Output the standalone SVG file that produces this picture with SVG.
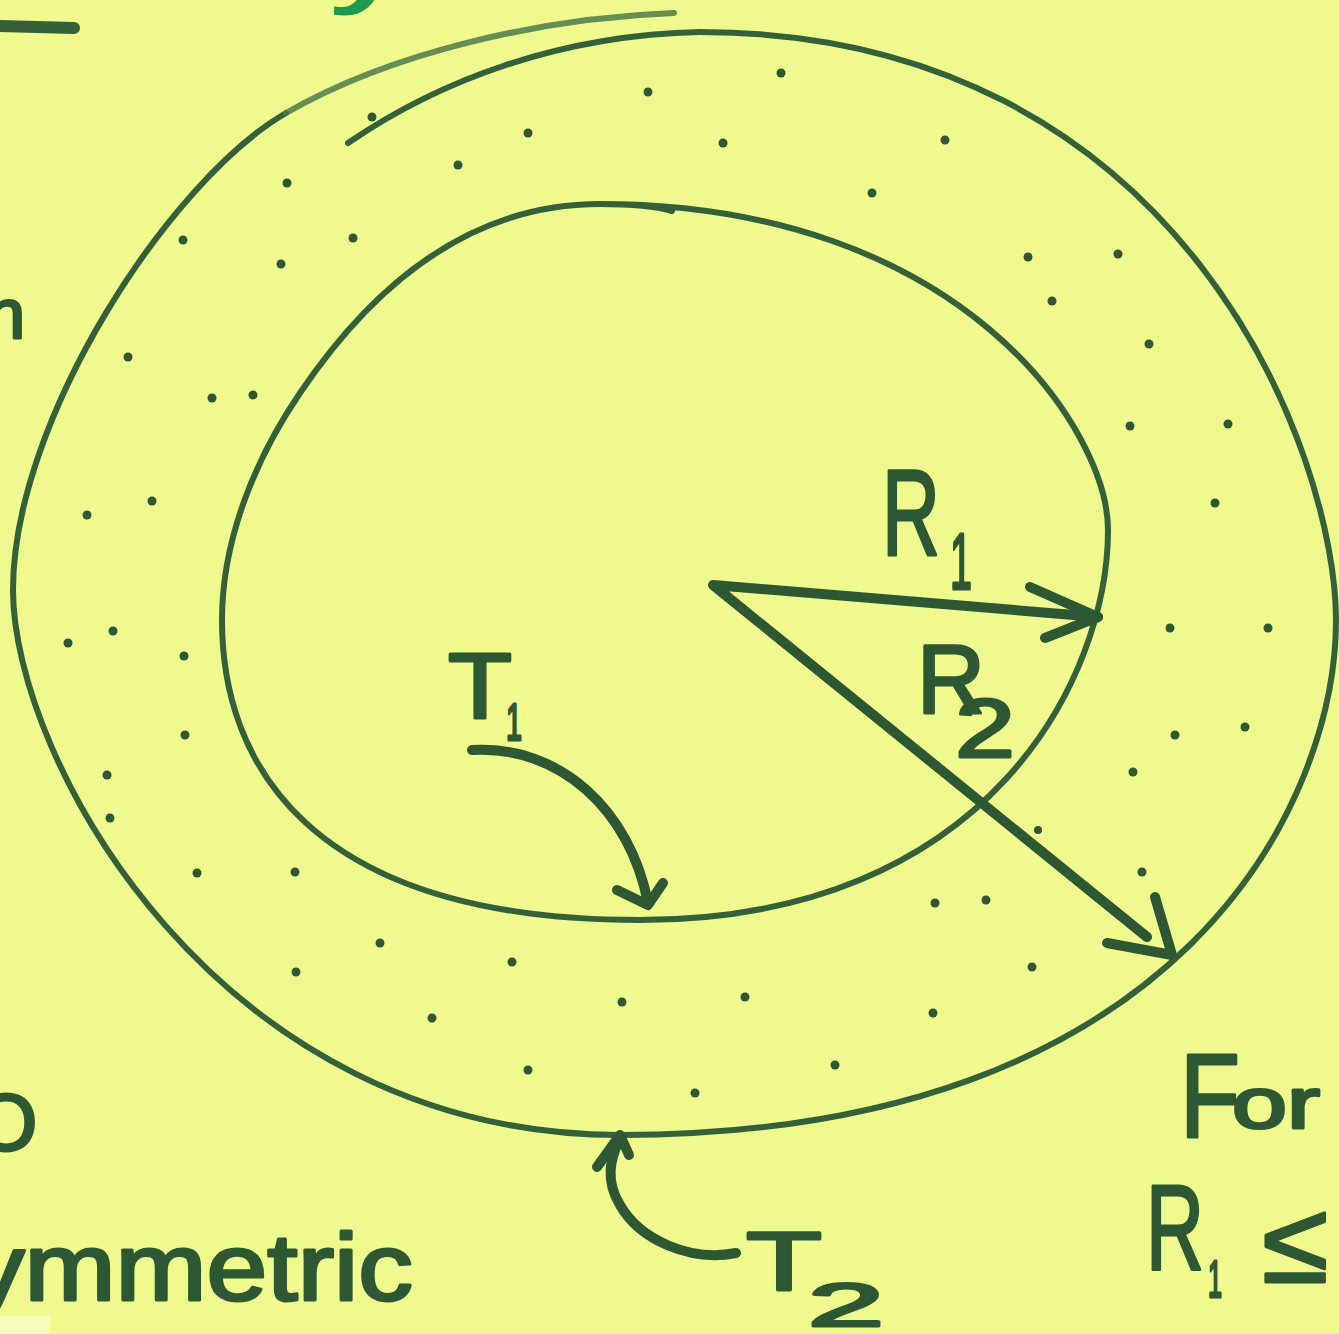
<svg xmlns="http://www.w3.org/2000/svg" width="1339" height="1334" viewBox="0 0 1339 1334">
<style>
.bg{fill:#eff98d}
.ring{fill:none;stroke:#34613a;stroke-width:6;stroke-linecap:round;stroke-linejoin:round}
.faint{fill:none;stroke:#4d7a4a;stroke-width:6;stroke-linecap:round;opacity:0.85}
.arrow{fill:none;stroke:#2e5834;stroke-width:10;stroke-linecap:round;stroke-linejoin:round}
.dot{fill:#2e5834}
.hw{font-family:"Liberation Sans","DejaVu Sans",sans-serif;fill:#2e5834;stroke:#2e5834;stroke-width:3;stroke-linejoin:round}
.green{font-family:"Liberation Sans","DejaVu Sans",sans-serif;fill:#1f9a4c;stroke:#1f9a4c;stroke-width:3}
</style>
<rect class="bg" x="0" y="0" width="1339" height="1334"/>
<rect x="0" y="1316" width="50" height="18" fill="#f5fbbd"/>

<g id="outer-boundary">
  <path class="ring" d="M 348,143 C 440,80 560,35 700,32 C 1185,32 1336,457 1336,620 C 1336,800 1185,1135 620,1135 C 216,1135 13,757 13,590 C 13,420 170,180 286,113"/>
  <path class="faint" d="M 286,113 C 390,53 540,18 674,13"/>
</g>

<g id="inner-boundary">
  <path class="ring" d="M 600,204 C 963,204 1108,431 1108,530 C 1108,677 989,920 640,920 C 304,920 222,759 222,620 C 222,540 255,459 300,393 C 373,285 470,204 600,204 C 630,204 655,206 672,211"/>
</g>

<g id="dots">
  <circle class="dot" cx="372" cy="117" r="4.5"/><circle class="dot" cx="528" cy="133" r="4.5"/>
  <circle class="dot" cx="458" cy="165" r="4.5"/><circle class="dot" cx="287" cy="183" r="4.5"/>
  <circle class="dot" cx="648" cy="92" r="4.5"/><circle class="dot" cx="781" cy="73" r="4.5"/>
  <circle class="dot" cx="723" cy="143" r="4.5"/><circle class="dot" cx="945" cy="140" r="4.5"/>
  <circle class="dot" cx="872" cy="193" r="4.5"/><circle class="dot" cx="183" cy="240" r="4.5"/>
  <circle class="dot" cx="281" cy="264" r="4.5"/><circle class="dot" cx="353" cy="238" r="4.5"/>
  <circle class="dot" cx="1028" cy="257" r="4.5"/><circle class="dot" cx="1118" cy="254" r="4.5"/>
  <circle class="dot" cx="1052" cy="301" r="4.5"/><circle class="dot" cx="1149" cy="344" r="4.5"/>
  <circle class="dot" cx="1130" cy="426" r="4.5"/><circle class="dot" cx="1228" cy="424" r="4.5"/>
  <circle class="dot" cx="1215" cy="503" r="4.5"/><circle class="dot" cx="1170" cy="628" r="4.5"/>
  <circle class="dot" cx="1268" cy="628" r="4.5"/><circle class="dot" cx="1245" cy="727" r="4.5"/>
  <circle class="dot" cx="1175" cy="735" r="4.5"/><circle class="dot" cx="1133" cy="772" r="4.5"/>
  <circle class="dot" cx="1142" cy="872" r="4.5"/><circle class="dot" cx="1038" cy="830" r="4"/>
  <circle class="dot" cx="935" cy="903" r="4.5"/><circle class="dot" cx="986" cy="900" r="4.5"/>
  <circle class="dot" cx="1032" cy="967" r="4.5"/><circle class="dot" cx="933" cy="1013" r="4.5"/>
  <circle class="dot" cx="835" cy="1065" r="4.5"/><circle class="dot" cx="695" cy="1093" r="4.5"/>
  <circle class="dot" cx="528" cy="1070" r="4.5"/><circle class="dot" cx="745" cy="997" r="4.5"/>
  <circle class="dot" cx="622" cy="1002" r="4.5"/><circle class="dot" cx="512" cy="962" r="4.5"/>
  <circle class="dot" cx="432" cy="1018" r="4.5"/><circle class="dot" cx="380" cy="943" r="4.5"/>
  <circle class="dot" cx="296" cy="972" r="4.5"/><circle class="dot" cx="295" cy="872" r="4.5"/>
  <circle class="dot" cx="197" cy="873" r="4.5"/><circle class="dot" cx="110" cy="818" r="4.5"/>
  <circle class="dot" cx="107" cy="775" r="4.5"/><circle class="dot" cx="185" cy="735" r="4.5"/>
  <circle class="dot" cx="184" cy="656" r="4.5"/><circle class="dot" cx="113" cy="631" r="4.5"/>
  <circle class="dot" cx="68" cy="643" r="4.5"/><circle class="dot" cx="152" cy="501" r="4.5"/>
  <circle class="dot" cx="87" cy="515" r="4.5"/><circle class="dot" cx="128" cy="357" r="4.5"/>
  <circle class="dot" cx="212" cy="398" r="4.5"/><circle class="dot" cx="253" cy="395" r="4.5"/>
</g>

<g id="connectors">
  <path class="arrow" d="M 1098,617 L 713,585 L 1147,937"/>
  <path class="arrow" d="M 1030,587 L 1098,617 L 1045,638"/>
  <path class="arrow" d="M 1155,897 L 1172,955 L 1107,943"/>
  <path class="arrow" stroke-width="8" d="M 472,750 C 560,745 630,810 648,903"/>
  <path class="arrow" stroke-width="8" d="M 617,890 L 648,905 L 663,883"/>
  <path class="arrow" stroke-width="9" d="M 736,1253 C 690,1262 640,1240 620,1205 C 605,1180 610,1160 620,1138"/>
  <path class="arrow" stroke-width="9" d="M 597,1167 L 620,1135 L 629,1155"/>
</g>

<g id="label-R1">
  <text class="hw" x="882" y="555" font-size="122" textLength="58" lengthAdjust="spacingAndGlyphs">R</text>
  <text class="hw" x="950" y="589" font-size="80" textLength="22" lengthAdjust="spacingAndGlyphs">1</text>
</g>
<g id="label-R2">
  <text class="hw" x="917" y="713" font-size="99" textLength="68" lengthAdjust="spacingAndGlyphs">R</text>
  <text class="hw" x="955" y="757" font-size="84" textLength="60" lengthAdjust="spacingAndGlyphs">2</text>
</g>
<g id="label-T1">
  <text class="hw" x="448" y="718" font-size="92" textLength="64" lengthAdjust="spacingAndGlyphs">T</text>
  <text class="hw" x="506" y="740" font-size="52" textLength="16" lengthAdjust="spacingAndGlyphs">1</text>
</g>
<g id="label-T2">
  <text class="hw" x="746" y="1290" font-size="84" textLength="76" lengthAdjust="spacingAndGlyphs">T</text>
  <text class="hw" x="808" y="1326" font-size="62" textLength="76" lengthAdjust="spacingAndGlyphs">2</text>
</g>

<g id="margin-text">
  <line x1="0" y1="26" x2="74" y2="28" stroke="#35603a" stroke-width="12" stroke-linecap="round"/>
  <text class="green" x="332" y="-3" font-size="80" textLength="70" lengthAdjust="spacingAndGlyphs">y</text>
  <text class="hw" x="-14" y="338" font-size="70">n</text>
  <text class="hw" x="-25" y="1150" font-size="80">O</text>
  <text class="hw" x="-30" y="1300" font-size="95" textLength="443" lengthAdjust="spacingAndGlyphs">ymmetric</text>
  <text class="hw" x="1180" y="1137" font-size="118" textLength="60" lengthAdjust="spacingAndGlyphs">F</text>
  <text class="hw" x="1232" y="1128" font-size="72" textLength="88" lengthAdjust="spacingAndGlyphs">or</text>
  <text class="hw" x="1146" y="1270" font-size="121" textLength="58" lengthAdjust="spacingAndGlyphs">R</text>
  <text class="hw" x="1208" y="1297" font-size="52" textLength="14" lengthAdjust="spacingAndGlyphs">1</text>
  <text class="hw" x="1262" y="1282" font-size="115" textLength="66" lengthAdjust="spacingAndGlyphs">≤</text>
</g>
</svg>
